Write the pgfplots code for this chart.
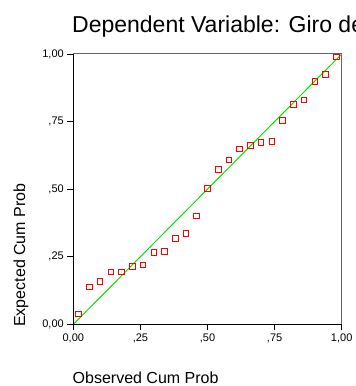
\documentclass[border=0pt]{standalone}
\usepackage{pgfplots}
\pgfplotsset{compat=1.18}
\usepackage{fontspec}
\setmainfont{Liberation Sans}
\definecolor{refgreen}{RGB}{0,230,0}
\definecolor{framegray}{RGB}{100,100,100}
\begin{document}
\begin{tikzpicture}
\path[use as bounding box] (0,0) rectangle (356pt,386pt);
\begin{axis}[
  at={(73.3pt,61.7pt)}, anchor=south west,
  scale only axis, width=268.4pt, height=270.3pt,
  xmin=0, xmax=1, ymin=0, ymax=1,
  axis line style={framegray, line width=1pt},
  xtick={0,0.25,0.5,0.75,1}, ytick={0,0.25,0.5,0.75,1},
  xticklabels={0,00,{,25},{,50},{,75},1,00},
  xticklabels={{0,00},{,25},{,50},{,75},{1,00}},
  yticklabels={{0,00},{,25},{,50},{,75},{1,00}},
  tick align=outside, xtick pos=bottom, ytick pos=left,
  major tick length=6pt,
  tick style={black, line width=0.8pt},
  ticklabel style={font=\fontsize{11}{13}\selectfont},
  clip=false,
]
\addplot[refgreen, line width=1pt] coordinates {(0,0) (1,1)};
\addplot[only marks, mark=square, mark size=2.8pt, red, mark options={fill=none, line width=1pt}] coordinates {
(0.02,0.038) (0.06,0.138) (0.10,0.159) (0.14,0.193) (0.18,0.193)
(0.22,0.214) (0.26,0.219) (0.30,0.265) (0.34,0.270) (0.38,0.317)
(0.42,0.335) (0.46,0.400) (0.50,0.503) (0.54,0.572) (0.58,0.608)
(0.62,0.649) (0.66,0.661) (0.70,0.672) (0.74,0.677) (0.78,0.753)
(0.82,0.814) (0.86,0.830) (0.90,0.898) (0.94,0.925) (0.98,0.989)
};
\draw[black, line width=1pt] (rel axis cs:0,1) -- (rel axis cs:0,0) -- (rel axis cs:1,0);
\end{axis}
\node[anchor=base west, inner sep=0pt, font=\fontsize{23}{27}\selectfont] at (72pt,353.7pt) {Dependent Variable: Giro de};
\node[anchor=base west, inner sep=0pt, font=\fontsize{16}{19}\selectfont] at (72.5pt,2pt) {Observed Cum Prob};
\node[anchor=base west, inner sep=0pt, rotate=90, font=\fontsize{16}{19}\selectfont] at (25pt,59pt) {Expected Cum Prob};
\end{tikzpicture}
\end{document}
